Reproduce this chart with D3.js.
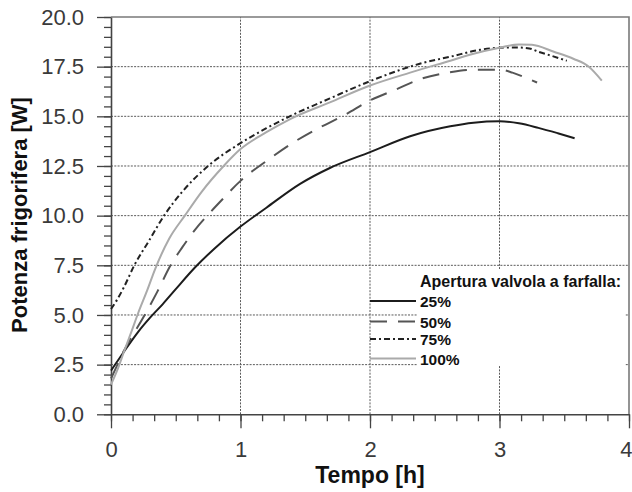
<!DOCTYPE html>
<html>
<head>
<meta charset="utf-8">
<script src="https://cdn.jsdelivr.net/npm/d3@7"></script>
<style>
  body { margin: 0; background: #fff; }
  svg { display: block; }
</style>
</head>
<body>
<svg id="chart"></svg>
<script>
// dati: tempo [h] e potenza frigorifera [W]
const series = ["25%", "50%", "75%", "100%"];

const t25 = [0, 0.1, 0.21, 0.3, 0.4, 0.5, 0.65, 0.8, 1.0, 1.2, 1.46, 1.69, 2.0, 2.31, 2.62, 2.8, 3.0, 3.15, 3.3, 3.45, 3.58];
const p25 = [2.2, 3.15, 4.15, 4.85, 5.55, 6.3, 7.4, 8.35, 9.45, 10.4, 11.6, 12.4, 13.2, 14.0, 14.5, 14.68, 14.75, 14.65, 14.42, 14.15, 13.9];

const t50 = [0, 0.05, 0.1, 0.17, 0.26, 0.36, 0.46, 0.55, 0.65, 0.75, 0.85, 1.0, 1.2, 1.4, 1.6, 1.8, 2.0, 2.2, 2.4, 2.6, 2.8, 3.0, 3.1, 3.2, 3.29];
const p50 = [1.8, 2.5, 3.2, 4.0, 5.0, 6.2, 7.5, 8.4, 9.3, 10.05, 10.75, 11.75, 12.75, 13.65, 14.4, 15.05, 15.8, 16.35, 16.9, 17.2, 17.35, 17.35, 17.2, 16.95, 16.7];

const t75 = [0, 0.05, 0.1, 0.18, 0.29, 0.41, 0.55, 0.75, 1.0, 1.2, 1.38, 1.69, 2.0, 2.23, 2.39, 2.62, 2.85, 3.0, 3.13, 3.23, 3.3, 3.4, 3.52];
const p75 = [5.3, 5.8, 6.4, 7.5, 8.7, 10.0, 11.2, 12.5, 13.65, 14.4, 15.0, 15.9, 16.77, 17.33, 17.66, 18.0, 18.35, 18.45, 18.47, 18.42, 18.25, 18.05, 17.8];

const t100 = [0, 0.05, 0.1, 0.16, 0.21, 0.28, 0.34, 0.45, 0.57, 0.7, 0.87, 1.0, 1.2, 1.38, 1.69, 2.0, 2.31, 2.62, 2.8, 3.0, 3.15, 3.25, 3.42, 3.57, 3.69, 3.79];
const p100 = [1.5, 2.25, 3.15, 4.2, 5.1, 6.25, 7.3, 8.85, 10.0, 11.2, 12.5, 13.35, 14.2, 14.85, 15.7, 16.55, 17.2, 17.8, 18.15, 18.45, 18.62, 18.6, 18.25, 17.9, 17.5, 16.8];

const xTicks = [0, 1, 2, 3, 4];
const yTicks = [0, 2.5, 5, 7.5, 10, 12.5, 15, 17.5, 20];

const svgWidth = 632;
const svgHeight = 492;
const font = "'Liberation Sans', Arial, Helvetica, sans-serif";

const svg = d3.select("#chart")
    .attr("width", svgWidth)
    .attr("height", svgHeight)
    .style("font-family", font);

const x = d3.scaleLinear().domain([0, 4]).range([111, 629]);
const y = d3.scaleLinear().domain([0, 20]).range([414.3, 17]);

// griglia tratteggiata
const grid = svg.append("g");
grid.selectAll(".gy")
    .data(yTicks.filter(d => d > 0 && d < 20))
    .enter().append("line")
    .attr("x1", x(0)).attr("x2", x(4))
    .attr("y1", d => y(d)).attr("y2", d => y(d));
grid.selectAll(".gx")
    .data(xTicks.filter(d => d > 0 && d < 4))
    .enter().append("line")
    .attr("x1", d => x(d)).attr("x2", d => x(d))
    .attr("y1", y(0)).attr("y2", y(20));
grid.selectAll("line")
    .attr("stroke", "#5a5a5a")
    .attr("stroke-width", 1)
    .attr("stroke-dasharray", "2,1.3");

// sfondo bianco della legenda
svg.append("rect")
    .attr("x", 417).attr("y", 269)
    .attr("width", 208).attr("height", 97)
    .attr("fill", "#fff");

// bordo superiore e destro
svg.append("path")
    .attr("d", `M${x(0)},${y(20)}H${x(4)}V${y(0)}`)
    .attr("fill", "none")
    .attr("stroke", "#7a7a7a")
    .attr("stroke-width", 1.6);

// assi
svg.append("g")
    .attr("transform", `translate(${x(0)},0)`)
    .call(d3.axisLeft(y).tickValues(yTicks).tickSize(14).tickSizeOuter(0)
        .tickPadding(13).tickFormat(d3.format(".1f")));
svg.append("g")
    .attr("transform", `translate(${x(0)},0)`)
    .call(d3.axisLeft(y).tickValues(d3.range(0, 20.01, 0.5)).tickSize(7)
        .tickSizeOuter(0).tickFormat(""))
    .call(g => g.select(".domain").remove());

const xAxis = svg.append("g")
    .attr("transform", `translate(0,${y(0)})`)
    .call(d3.axisBottom(x).tickValues(xTicks).tickSize(14).tickSizeOuter(0)
        .tickPadding(13).tickFormat(d3.format("d")));
svg.append("g")
    .attr("transform", `translate(0,${y(0)})`)
    .call(d3.axisBottom(x).tickValues(d3.range(0, 4.001, 1 / 6)).tickSize(7)
        .tickSizeOuter(0).tickFormat(""))
    .call(g => g.select(".domain").remove());

svg.selectAll(".domain").attr("stroke", "#444").attr("stroke-width", 1.6);
svg.selectAll(".tick line").attr("stroke", "#444").attr("stroke-width", 1.3);
svg.selectAll(".tick text")
    .attr("font-family", font)
    .attr("font-size", 22)
    .attr("fill", "#3a3a3a");

// l'ultima etichetta (4) sta sul bordo: la allineo a destra
xAxis.selectAll(".tick text")
    .filter(d => d === 4)
    .attr("text-anchor", "end")
    .attr("x", 3);

// titoli degli assi
svg.append("text")
    .attr("x", 370).attr("y", 483)
    .attr("text-anchor", "middle")
    .attr("font-size", 23).attr("font-weight", "bold")
    .attr("fill", "#111")
    .text("Tempo [h]");

svg.append("text")
    .attr("transform", "translate(26.5,215) rotate(-90)")
    .attr("text-anchor", "middle")
    .attr("font-size", 22).attr("font-weight", "bold")
    .attr("fill", "#111")
    .text("Potenza frigorifera [W]");

// curve
const styles = [
    { stroke: "#1c1c1c", dash: null },
    { stroke: "#555", dash: "17,11" },
    { stroke: "#222", dash: "6,3,2,3" },
    { stroke: "#aaa", dash: null }
];
const curves = [
    d3.zip(t25, p25),
    d3.zip(t50, p50),
    d3.zip(t75, p75),
    d3.zip(t100, p100)
];

const line = d3.line()
    .x(d => x(d[0]))
    .y(d => y(d[1]))
    .curve(d3.curveMonotoneX);

svg.selectAll(".curve")
    .data(curves)
    .enter().append("path")
    .attr("class", "curve")
    .attr("d", line)
    .attr("fill", "none")
    .attr("stroke", (d, i) => styles[i].stroke)
    .attr("stroke-width", 2)
    .attr("stroke-dasharray", (d, i) => styles[i].dash);

// legenda
const legend = svg.append("g");
legend.append("text")
    .attr("x", 420).attr("y", 287.3)
    .attr("font-size", 16).attr("font-weight", "bold")
    .attr("fill", "#111")
    .text("Apertura valvola a farfalla:");

const legendY = [301, 321.5, 339, 358.5];
series.forEach((s, i) => {
    legend.append("line")
        .attr("x1", 370).attr("x2", 416)
        .attr("y1", legendY[i]).attr("y2", legendY[i])
        .attr("stroke", styles[i].stroke)
        .attr("stroke-width", 2)
        .attr("stroke-dasharray", styles[i].dash);
    legend.append("text")
        .attr("x", 420).attr("y", legendY[i] + 6)
        .attr("font-size", 15.5).attr("font-weight", "bold")
        .attr("fill", "#111")
        .text(s);
});
</script>
</body>
</html>
